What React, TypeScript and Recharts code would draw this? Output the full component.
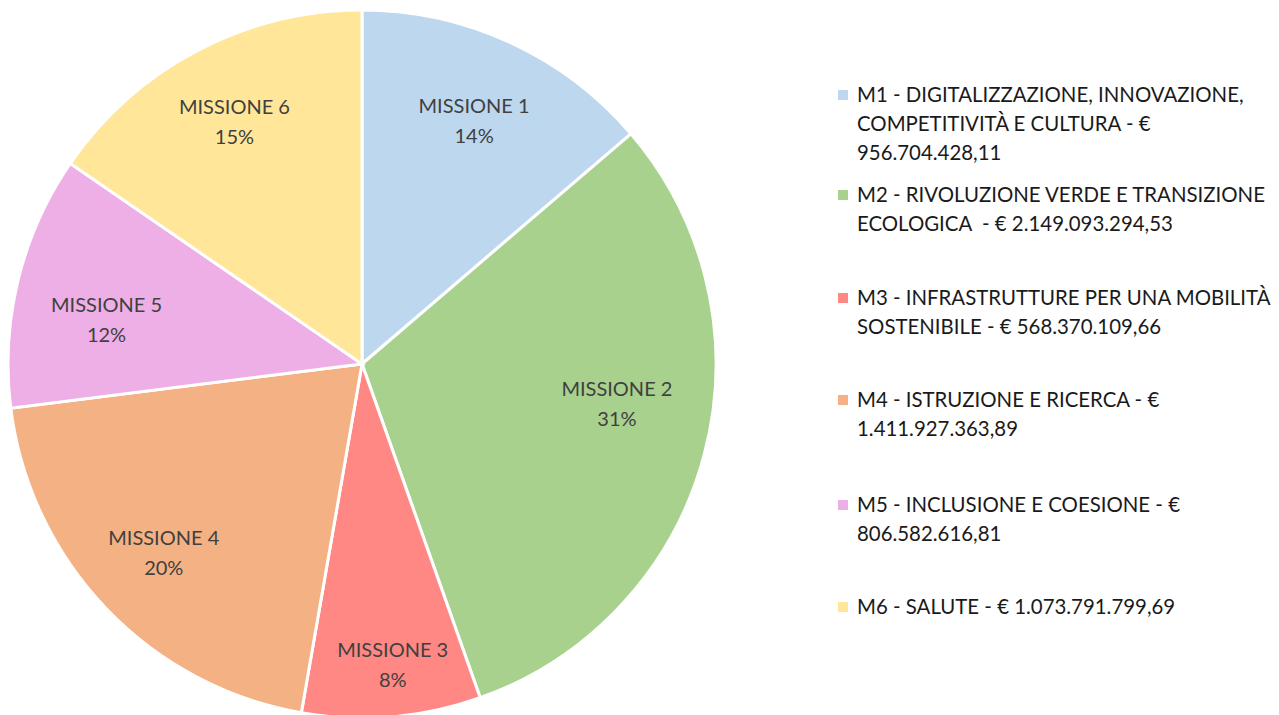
import React from "react";
import { PieChart, Pie, Cell, Legend } from "recharts";

const categories = ["MISSIONE 1", "MISSIONE 2", "MISSIONE 3", "MISSIONE 4", "MISSIONE 5", "MISSIONE 6"];
const values = [956704428.11, 2149093294.53, 568370109.66, 1411927363.89, 806582616.81, 1073791799.69];
const legendLines = [
  ["M1 - DIGITALIZZAZIONE, INNOVAZIONE,", "COMPETITIVITÀ E CULTURA - €", "956.704.428,11"],
  ["M2 - RIVOLUZIONE VERDE E TRANSIZIONE", "ECOLOGICA  - € 2.149.093.294,53"],
  ["M3 - INFRASTRUTTURE PER UNA MOBILITÀ", "SOSTENIBILE - € 568.370.109,66"],
  ["M4 - ISTRUZIONE E RICERCA - €", "1.411.927.363,89"],
  ["M5 - INCLUSIONE E COESIONE - €", "806.582.616,81"],
  ["M6 - SALUTE - € 1.073.791.799,69"],
];
const colors = ["#BDD7EE", "#A9D18E", "#FF8884", "#F4B183", "#EEAEE6", "#FFE699"];

// label placement tweaks (best-fit style), relative to slice mid-angle
const labelRadiusFrac = [0.757, 0.729, 0.856, 0.774, 0.732, 0.774];
const labelAngleShift = [0, 6, 1, 0, 4, 0];

const data = categories.map((name, i) => ({ name, value: values[i] }));

const FONT = "Lato, 'Open Sans', sans-serif";
const RAD = Math.PI / 180;

const renderLabel = (props: any) => {
  const { cx, cy, midAngle, outerRadius, percent, name, index } = props;
  const r = outerRadius * labelRadiusFrac[index];
  const a = (midAngle + labelAngleShift[index]) * RAD;
  const x = cx + r * Math.cos(-a);
  const y = cy + r * Math.sin(-a);
  return (
    <text x={x} y={y} fill="#404040" fontFamily={FONT} fontSize={20} textAnchor="middle">
      <tspan x={x} y={y - 8}>{name}</tspan>
      <tspan x={x} y={y + 22}>{`${Math.round(percent * 100)}%`}</tspan>
    </text>
  );
};

const itemTops = [80, 180, 283, 385, 490, 592];

const renderLegend = () => (
  <div style={{ position: "relative", width: 440, height: 715, fontFamily: FONT }}>
    {legendLines.map((lines, i) => (
      <div key={i} style={{ position: "absolute", left: 0, top: itemTops[i] }}>
        <div style={{ position: "absolute", left: 0, top: 10, width: 10, height: 10, background: colors[i] }} />
        <div style={{ marginLeft: 19, fontSize: 20.4, lineHeight: "29px", color: "#1a1a1a", whiteSpace: "nowrap" }}>
          {lines.map((l, j) => (
            <div key={j} style={{ whiteSpace: "pre" }}>{l}</div>
          ))}
        </div>
      </div>
    ))}
  </div>
);

export default function App() {
  return (
    <div style={{ position: "absolute", left: 0, top: 0, width: 1279, height: 715, background: "#fff", overflow: "hidden" }}>
      <PieChart width={1279} height={715} margin={{ top: 0, right: 0, bottom: 0, left: 0 }}>
        <Pie
          data={data}
          dataKey="value"
          nameKey="name"
          cx={362}
          cy={364}
          outerRadius={354}
          startAngle={90}
          endAngle={-270}
          stroke="#ffffff"
          strokeWidth={3}
          label={renderLabel}
          labelLine={false}
          isAnimationActive={false}
        >
          {data.map((d, i) => (
            <Cell key={d.name} fill={colors[i]} />
          ))}
        </Pie>
        <Legend
          content={renderLegend}
          wrapperStyle={{ position: "absolute", left: 838, top: 0, width: 440, height: 715 }}
        />
      </PieChart>
    </div>
  );
}
